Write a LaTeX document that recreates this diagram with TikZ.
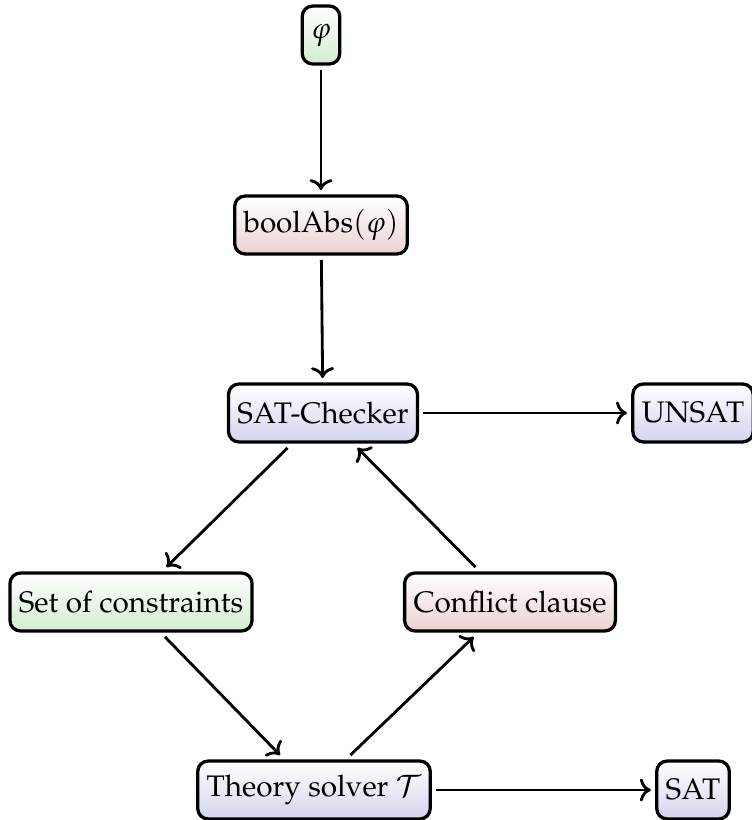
\documentclass[tikz,border=0pt]{standalone}
\usepackage[T1]{fontenc}
\usepackage{mathpazo}
\usetikzlibrary{arrows.meta}
\definecolor{boxgreen}{HTML}{D3ECD0}
\definecolor{boxred}{HTML}{EBD2D2}
\definecolor{boxblue}{HTML}{D4D4EE}
\tikzset{
  box/.style={draw=black, line width=1.1pt, rounded corners=3.5pt,
    minimum height=19.5pt, inner xsep=3pt, inner ysep=2pt, outer sep=2pt,
    top color=white},
  gbox/.style={box, bottom color=boxgreen},
  rbox/.style={box, bottom color=boxred},
  bbox/.style={box, bottom color=boxblue},
  link/.style={->, line width=0.95pt},
}
\begin{document}
\begin{tikzpicture}[x=0.3367pt, y=-0.3367pt]
  \useasboundingbox (0,0) rectangle (752,820);
  \node[gbox] (phi)  at (321,35)  {$\varphi$};
  \node[rbox] (abs)  at (321,225) {boolAbs$(\varphi)$};
  \node[bbox] (chk)  at (323,413) {SAT-Checker};
  \node[bbox] (unsat) at (693,413) {UNSAT};
  \node[gbox] (cons) at (131,602) {Set of constraints};
  \node[rbox] (confl) at (510,602) {Conflict clause};
  \node[bbox] (th)   at (314,790) {Theory solver $\mathcal{T}$};
  \node[bbox] (sat)  at (693,790) {SAT};

  \draw[link] (phi) -- (abs);
  \draw[link] (abs) -- (chk);
  \draw[link] (chk) -- (unsat);
  \draw[link] (chk) -- (cons);
  \draw[link] (cons) -- (th);
  \draw[link] (th) -- (confl);
  \draw[link] (confl) -- (chk);
  \draw[link] (th) -- (sat);
\end{tikzpicture}
\end{document}
